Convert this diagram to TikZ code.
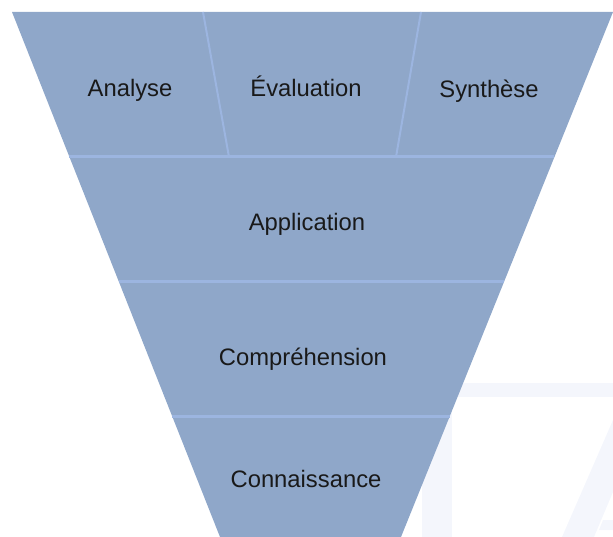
\documentclass[tikz,border=0pt]{standalone}
\usepackage{fontspec}
\setmainfont{Liberation Sans}
\definecolor{bandfill}{HTML}{8FA7C9}
\definecolor{sepline}{HTML}{9CB5E0}
\definecolor{wmark}{HTML}{F4F6FC}
\begin{document}
\begin{tikzpicture}[x=1pt,y=-1pt,
  lbl/.style={font=\fontsize{23.8}{26}\selectfont, text=black!90, inner sep=0pt, anchor=base},
  sepstyle/.style={draw=sepline, line width=3pt},
  divstyle/.style={draw=sepline, line width=2pt}]
\useasboundingbox (0,0) rectangle (613,537);
% faint watermark
\begin{scope}
\clip (0,0) rectangle (613,537);
\fill[wmark] (400,383) rectangle (613,397);
\fill[wmark] (422,383) rectangle (452,537);
\fill[wmark] (613,420) -- (562,537) -- (594,537) -- (613,492) -- cycle;
\fill[wmark] (603,520) -- (613,520) -- (613,530) -- (599,530) -- cycle;
% funnel
\fill[bandfill] (12,12) -- (613,12) -- (401,537) -- (220,537) -- cycle;
\end{scope}
% edge coordinates
\coordinate (l1) at (69.4,157);
\coordinate (r1) at (554.4,157);
\coordinate (l2) at (119,282);
\coordinate (r2) at (504,282);
\coordinate (l3) at (172,416);
\coordinate (r3) at (450,416);
\coordinate (d1t) at (203,12);
\coordinate (d1b) at (229,157);
\coordinate (d2t) at (421,12);
\coordinate (d2b) at (396,157);
\draw[sepstyle] (l1) -- (r1);
\draw[sepstyle] (l2) -- (r2);
\draw[sepstyle] (l3) -- (r3);
\draw[divstyle] (d1t) -- (d1b);
\draw[divstyle] (d2t) -- (d2b);
% labels
\node[lbl] (ana) at (130,97) {Analyse};
\node[lbl] (eva) at (306,97) {Évaluation};
\node[lbl] (syn) at (489,98) {Synthèse};
\node[lbl] (app) at (307,231) {Application};
\node[lbl] (com) at (303,365) {Compréhension};
\node[lbl] (con) at (306,487) {Connaissance};
\end{tikzpicture}
\end{document}
